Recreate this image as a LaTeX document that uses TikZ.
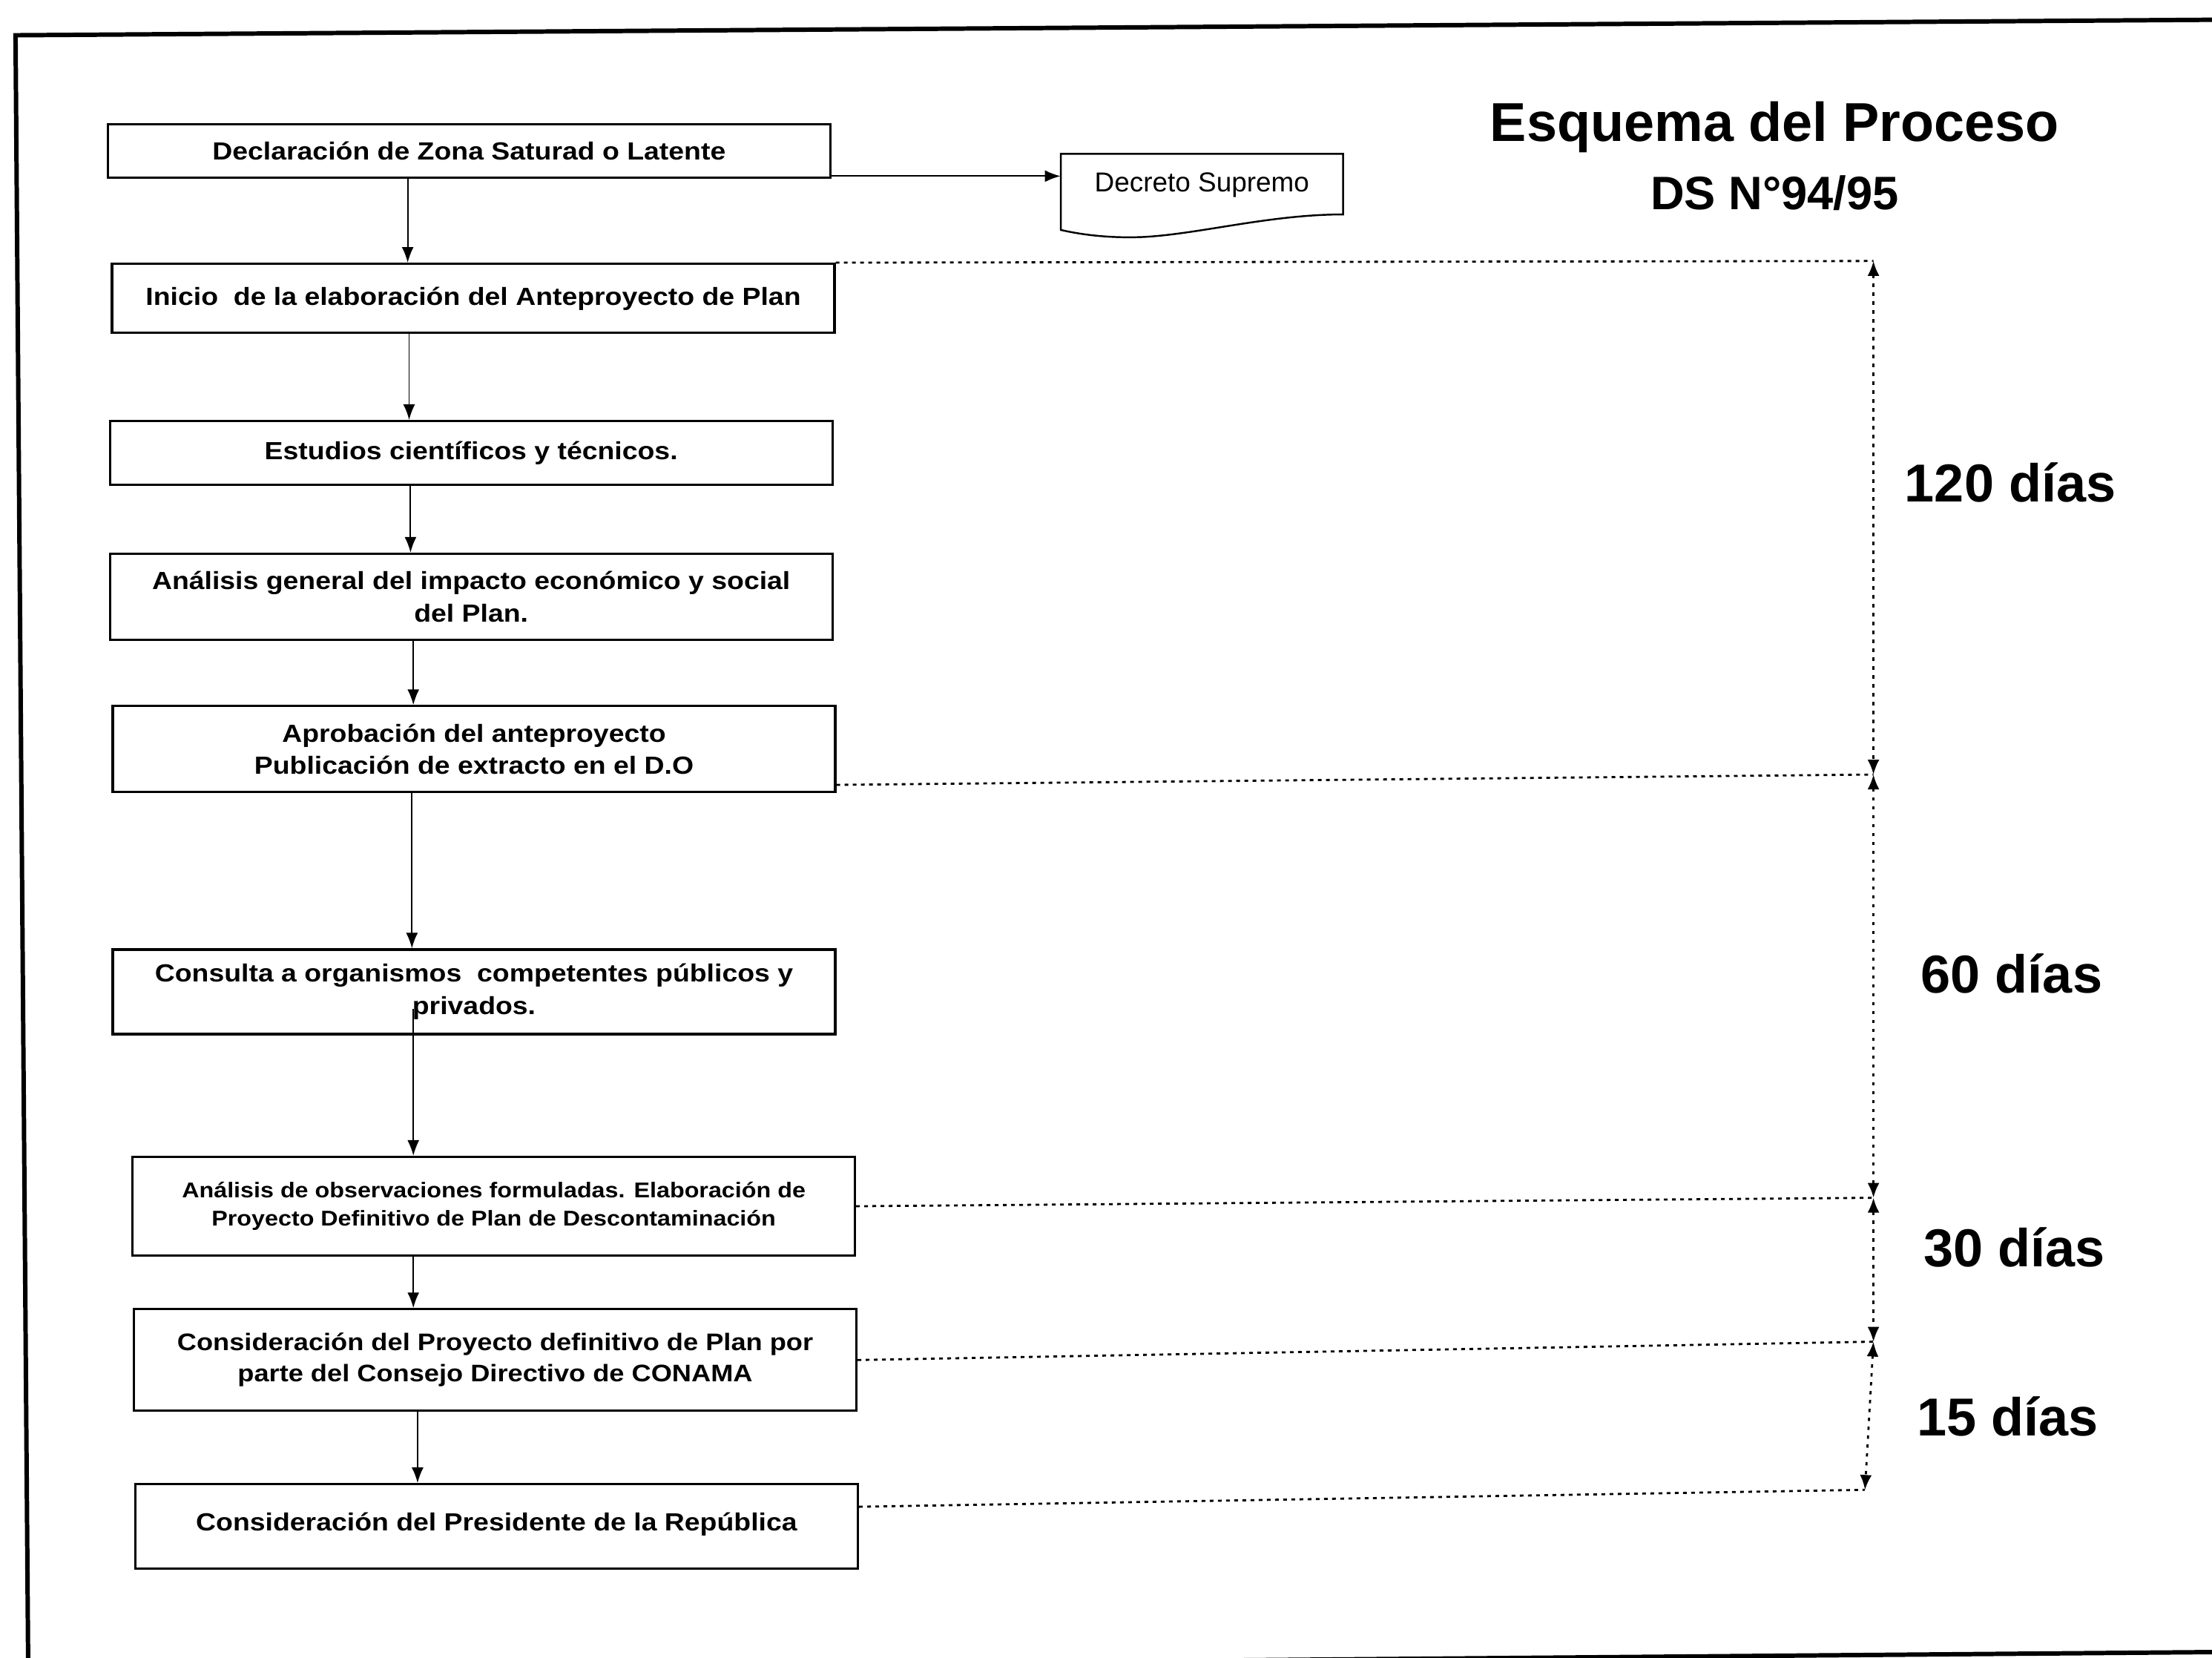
\documentclass[tikz,border=0pt]{standalone}
\usepackage{fontspec}
\setmainfont{Liberation Sans}
\newfontfamily\cajafont[FakeStretch=1.12]{Liberation Sans}
\usetikzlibrary{arrows.meta,calc}

\begin{document}
\begin{tikzpicture}[x=0.19018mm,y=-0.19018mm,
  etapa/.style={draw,line width=0.9pt,minimum width=97.4mm,inner sep=0pt,align=center,
    font=\cajafont\bfseries\fontsize{9.5}{12.4}\selectfont},
  flecha/.style={-{Latex[length=2.1mm,width=1.6mm]},line width=0.55pt},
  guia/.style={line width=0.8pt,dash pattern=on 0.5mm off 0.6mm},
  plazo/.style={{Latex[length=2mm,width=1.6mm]}-{Latex[length=2mm,width=1.6mm]},line width=0.8pt,dash pattern=on 0.45mm off 0.75mm},
  dias/.style={font=\bfseries\fontsize{20.5}{24}\selectfont}]
\useasboundingbox (0,0) rectangle (1568,1175);
% marco
\draw[line width=1.7pt] (1570,1171) -- (20,1184) -- (11,25) -- (1570,14);
% titulo
\node[font=\bfseries\fontsize{21}{25}\selectfont] (titulo) at (1258,90) {Esquema del Proceso};
\node[font=\bfseries\fontsize{18}{22}\selectfont] (norma) at (1258,137) {DS N°94/95};
% etapas
\node[etapa,minimum height=7.23mm] (decl) at (332.5,107) {Declaración de Zona Saturad o Latente};
\node[etapa,minimum height=9.32mm] (inicio) at (335.5,211.5) {Inicio\ \ de la elaboración del Anteproyecto de Plan};
\node[etapa,minimum height=8.56mm] (estudios) at (334,321) {Estudios científicos y técnicos.};
\node[etapa,minimum height=11.6mm] (impacto) at (334,423) {Análisis general del impacto económico y social\\del Plan.};
\node[etapa,minimum height=11.6mm] (aprob) at (336,531) {Aprobación del anteproyecto\\Publicación de extracto en el D.O};
\node[etapa,minimum height=11.4mm] (consulta) at (336,703) {Consulta a organismos\ \ competentes públicos y\\privados.};
\node[etapa,minimum height=13.3mm,font=\cajafont\bfseries\fontsize{8.2}{10.8}\selectfont] (observ) at (350,855) {\raisebox{0.6mm}{Análisis de observaciones formuladas. Elaboración de}\\\raisebox{0.6mm}{Proyecto Definitivo de Plan de Descontaminación}};
\node[etapa,minimum height=13.7mm,font=\cajafont\bfseries\fontsize{9.2}{12}\selectfont] (consejo) at (351,964) {Consideración del Proyecto definitivo de Plan por\\parte del Consejo Directivo de CONAMA};
\node[etapa,minimum height=11.4mm] (presid) at (352,1082) {\raisebox{1.2mm}{Consideración del Presidente de la República}};
% decreto
\node[minimum width=38mm,minimum height=9.13mm,font=\fontsize{10.5}{12}\selectfont] (decreto) at (852,131) {Decreto Supremo};
\draw[line width=0.7pt] (752,109) -- (952,109) -- (952,152) .. controls (900,152) and (850,166) .. (810,168) .. controls (785,169) and (765,166) .. (752,163) -- cycle;
\coordinate (ds) at ($(decl.south east)+(0,-2)$);
\draw[flecha] (ds) -- (ds -| decreto.west);
% flechas
\foreach \a/\b/\c in {decl/inicio/289,inicio/estudios/290,estudios/impacto/291,impacto/aprob/293,aprob/consulta/292,observ/consejo/293,consejo/presid/296}
  \draw[flecha] (\c,0 |- \a.south) -- (\c,0 |- \b.north);
\draw[flecha] (293,715) -- (293,0 |- observ.north);
% plazos
\coordinate (t0) at (1328,185);
\coordinate (t1) at (1328,549);
\coordinate (t2) at (1328,849);
\coordinate (t3) at (1328,951);
\coordinate (t4) at (1322,1056);
\draw[guia] (inicio.north east) -- (t0);
\draw[guia] ($(aprob.south east)+(0,-6)$) -- (t1);
\draw[guia] (observ.east) -- (t2);
\draw[guia] (consejo.east) -- (t3);
\draw[guia] ($(presid.east)+(0,-14)$) -- (t4);
\foreach \p/\q in {t0/t1,t1/t2,t2/t3,t3/t4}
  \draw[plazo] (\p) -- (\q);
\node[dias] (d120) at (1425,342) {120 días};
\node[dias] (d60) at (1426,690) {60 días};
\node[dias] (d30) at (1428,884) {30 días};
\node[dias] (d15) at (1423,1004) {15 días};
\end{tikzpicture}
\end{document}
